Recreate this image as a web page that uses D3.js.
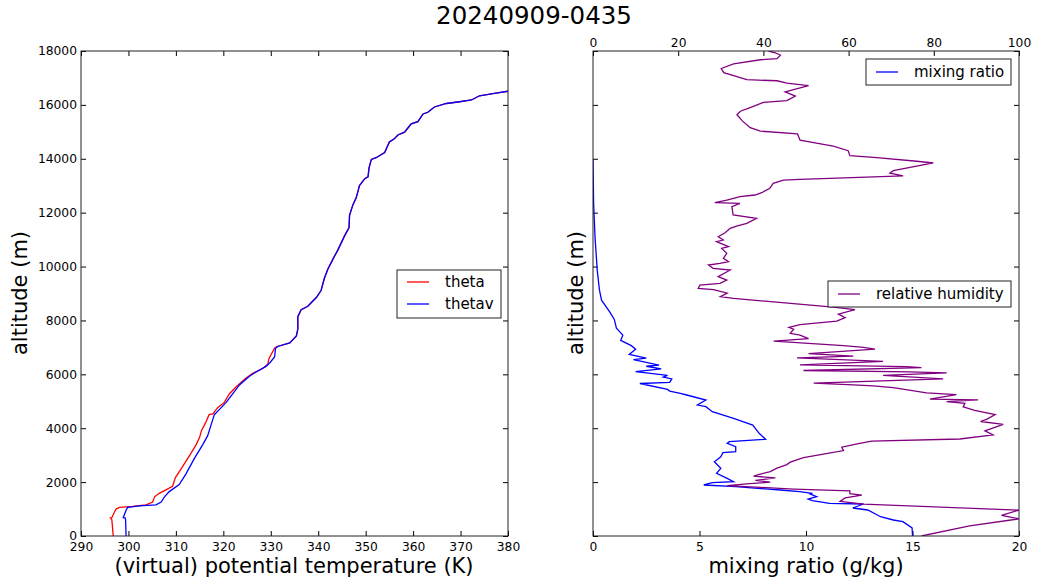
<!DOCTYPE html>
<html><head><meta charset="utf-8">
<script src="https://cdn.jsdelivr.net/npm/d3@7"></script>
<style>
html,body{margin:0;padding:0;background:#fff;}
svg{display:block;}
text{font-family:"DejaVu Sans",sans-serif;fill:#000;}
</style></head>
<body><svg id="c" width="1039" height="578"></svg>
<script>
const title = "20240909-0435";
// left panel: potential temperature profiles
const thetaVals = [296.8,296.5,296.2,296.5,297.0,297.4,298.1,300.9,303.7,305.1,305.5,306.5,307.9,309.3,309.9,311.1,313.2,314.3,315.0,315.4,316.2,317.0,317.8,318.8,320.2,321.3,322.7,324.8,326.2,328.3,329.4,329.6,330.8,331.3,334.0,335.4,335.7,335.7,336.4,337.8,339.6,340.6,341.3,342.0,343.1,344.1,345.5,346.5,346.6,347.3,348.0,348.7,349.8,350.5,350.7,351.2,352.2,354.0,355.0,356.1,356.8,358.2,358.9,359.6,361.0,362.1,363.1,364.5,367.0,369.8,372.3,374.0,376.8,380.0];
const thetaAlt  = [0,600,675,680,870,1000,1064,1103,1155,1259,1453,1583,1713,1843,2167,2492,3076,3400,3660,3919,4179,4503,4529,4763,4957,5282,5541,5866,6034,6216,6385,6580,6969,7034,7164,7423,7682,8137,8396,8525,8850,9110,9564,9888,10277,10602,11121,11446,11900,12289,12549,13003,13262,13327,13651,13975,14040,14235,14624,14754,14884,14988,15143,15299,15377,15662,15727,15922,16052,16117,16182,16338,16415,16506];
const thetavVals = [299.5,299.4,299.3,298.9,299.6,299.85,302.3,305.8,306.9,307.6,308.6,310.7,312.1,313.9,315.7,316.7,317.4,318.1,319.2,320.6,322.0,323.4,325.5,326.9,329.0,329.9,330.8,331.0,331.5,334.0,335.4,335.7,335.7,336.4,337.8,339.6,340.6,341.3,342.0,343.1,344.1,345.5,346.5,346.6,347.3,348.0,348.7,349.8,350.5,350.7,351.2,352.2,354.0,355.0,356.1,356.8,358.2,358.9,359.6,361.0,362.1,363.1,364.5,367.0,369.8,372.3,374.0,376.8,380.0];
const thetavAlt  = [0,600,675,680,1000,1064,1120,1155,1259,1453,1648,1908,2297,2881,3400,3724,4114,4503,4698,4957,5282,5606,5930,6086,6294,6450,6644,6969,7034,7164,7423,7682,8137,8396,8525,8850,9110,9564,9888,10277,10602,11121,11446,11900,12289,12549,13003,13262,13327,13651,13975,14040,14235,14624,14754,14884,14988,15143,15299,15377,15662,15727,15922,16052,16117,16182,16338,16415,16506];
// right panel: mixing ratio (g/kg) and relative humidity (%)
const mrVals = [15.0,15.0,14.98,14.55,14.1,13.5,12.9,12.2,12.7,11.1,10.3,10.1,10.5,10.2,10.3,9.7,8.8,6.7,5.2,5.6,6.6,6.3,5.8,6.0,5.7,6.0,6.1,6.7,6.7,6.3,6.4,8.1,7.8,7.5,6.6,5.6,5.3,4.9,5.3,4.4,4.1,3.6,3.5,2.2,3.6,3.7,3.3,3.5,2.0,3.2,2.5,3.1,1.9,2.5,1.7,2.0,1.8,1.3,1.4,1.1,1.0,0.8,0.4,0.3,0.2,0.1,0.03,0];
const mrAlt  = [0,40,300,531,594,716,965,1039,1188,1213,1311,1373,1459,1558,1583,1645,1707,1830,1893,1978,2015,2141,2327,2512,2757,2943,3091,3128,3314,3438,3500,3589,3811,4119,4367,4613,4799,4861,5047,5233,5295,5380,5441,5660,5700,5831,5900,5960,6100,6200,6300,6340,6545,6600,6740,6935,7065,7260,7455,7714,8039,8300,8750,9143,9857,11026,12325,14000];
const rhVals = [77.1,88.4,100,95.9,100,63.5,58.0,59.2,63.1,60.3,60.3,47.1,39.3,31.5,36.1,41.6,38.1,42.8,37.7,39.3,41.6,43.2,45.5,46.3,49.4,54.1,58.8,58.4,62.3,65.4,86.1,93.9,92.0,96.3,91.0,92.5,94.4,89.6,86.9,87.3,83.0,90.4,79.1,85.3,78.3,70.5,65.8,61.1,51.8,82.2,75.2,68.1,83.0,74.4,49.4,77.1,73.6,48.6,68.1,47.9,61.1,50.6,66.2,63.5,58.8,42.4,50.6,48.6,46.3,47.1,46.0,48.6,57.2,59.2,57.6,61.5,56.4,42.4,33.0,29.9,31.5,28.3,24.7,25.1,29.8,31.4,29.4,32.2,28.2,27.1,29.8,31.8,30.6,31.4,30.2,31.8,29.0,30.6,29.4,31.0,32.2,33.7,36.1,38.4,32.9,32.6,34.5,28.6,31.4,34.5,38.0,39.6,41.5,42.3,44.7,48.6,72.8,69.7,70.5,79.9,76.0,66.6,60.3,59.9,56.4,51.8,48.6,48.0,39.3,36.9,35.0,33.8,34.6,36.9,40.0,45.5,47.5,45.1,50.6,45.5,43.2,36.1,30.7,30.1,33.0,39.3,43.2,44.0,42.8,41.2];
const rhAlt  = [0,377,636,766,961,1182,1286,1416,1519,1571,1675,1740,1805,1870,1935,2000,2065,2156,2221,2299,2390,2519,2649,2740,2909,3039,3169,3299,3428,3519,3600,3753,3900,4143,4250,4338,4506,4662,4792,4922,4987,5052,5078,5247,5311,5506,5571,5610,5675,5831,5896,5960,6052,6091,6143,6247,6286,6351,6481,6610,6675,6766,6935,7000,7065,7234,7325,7455,7519,7675,7740,7844,7974,8104,8234,8403,8494,8688,8818,8883,9013,9143,9192,9314,9376,9500,9623,9871,9933,10057,10119,10180,10304,10490,10675,10737,10922,10984,11108,11256,11417,11504,11603,11789,11913,12222,12346,12370,12469,12593,12655,12741,12902,13088,13211,13236,13364,13467,13558,13844,13909,14039,14117,14299,14468,14597,14688,14922,15026,15156,15416,15636,15766,15896,16091,16156,16325,16480,16714,16805,16896,16935,17195,17351,17519,17675,17714,17844,17935,18000];
const altTicks = [0,2000,4000,6000,8000,10000,12000,14000,16000,18000];
const tempTicks = [290,300,310,320,330,340,350,360,370,380];
const mrTicks = [0,5,10,15,20];
const rhTicks = [0,20,40,60,80,100];

const svg = d3.select("#c");
const yTop = 51, yBot = 536;
const L = {x0:81, x1:508}, R = {x0:593, x1:1019};
const y = d3.scaleLinear().domain([0,18000]).range([yBot, yTop]);
const xT = d3.scaleLinear().domain([290,380]).range([L.x0, L.x1]);
const xM = d3.scaleLinear().domain([0,20]).range([R.x0, R.x1]);
const xH = d3.scaleLinear().domain([0,100]).range([R.x0, R.x1]);
const TK = 5, FS = 12.3;

svg.append("text").attr("x",534).attr("y",24).attr("text-anchor","middle").attr("font-size",24.5).text(title);

const defs = svg.append("defs");
defs.append("clipPath").attr("id","clipL").append("rect").attr("x",L.x0).attr("y",yTop).attr("width",L.x1-L.x0).attr("height",yBot-yTop);
defs.append("clipPath").attr("id","clipR").append("rect").attr("x",R.x0).attr("y",yTop).attr("width",R.x1-R.x0).attr("height",yBot-yTop);

function styleAxis(g){ g.select(".domain").remove(); g.selectAll("line").attr("stroke","#000"); g.selectAll("text").attr("font-size",FS).attr("font-family","DejaVu Sans"); }

function line(xs, vals, alts){
  return d3.line().x((d,i)=>xs(vals[i])).y((d,i)=>y(alts[i]))(vals);
}

// left panel
svg.append("g").attr("transform",`translate(0,${yBot})`).call(d3.axisBottom(xT).tickValues(tempTicks).tickSize(-TK).tickPadding(6).tickFormat(d3.format("d"))).call(styleAxis);
svg.append("g").attr("transform",`translate(0,${yTop})`).call(d3.axisTop(xT).tickValues(tempTicks).tickSize(-TK).tickFormat("")).call(styleAxis);
svg.append("g").attr("transform",`translate(${L.x0},0)`).call(d3.axisLeft(y).tickValues(altTicks).tickSize(-TK).tickPadding(4).tickFormat(d3.format("d"))).call(styleAxis);
svg.append("g").attr("transform",`translate(${L.x1},0)`).call(d3.axisRight(y).tickValues(altTicks).tickSize(-TK).tickFormat("")).call(styleAxis);
const gL = svg.append("g").attr("clip-path","url(#clipL)");
gL.append("path").attr("d",line(xT,thetaVals,thetaAlt)).attr("fill","none").attr("stroke","#ff0000").attr("stroke-width",1.3);
gL.append("path").attr("d",line(xT,thetavVals,thetavAlt)).attr("fill","none").attr("stroke","#0000ff").attr("stroke-width",1.3);
svg.append("rect").attr("x",L.x0).attr("y",yTop).attr("width",L.x1-L.x0).attr("height",yBot-yTop).attr("fill","none").attr("stroke","#222").attr("stroke-width",1);

// legend left
const lg = svg.append("g");
lg.append("rect").attr("x",397).attr("y",270).attr("width",104).attr("height",48).attr("fill","#fff").attr("stroke","#222").attr("stroke-width",1);
[["theta","#ff0000",282],["thetav","#0000ff",304]].forEach(([t,c,yy])=>{
  lg.append("line").attr("x1",407).attr("x2",429).attr("y1",yy).attr("y2",yy).attr("stroke",c).attr("stroke-width",1.3);
  lg.append("text").attr("x",445).attr("y",yy+5).attr("font-size",15).text(t);
});

// right panel
svg.append("g").attr("transform",`translate(0,${yBot})`).call(d3.axisBottom(xM).tickValues(mrTicks).tickSize(-TK).tickPadding(6).tickFormat(d3.format("d"))).call(styleAxis);
svg.append("g").attr("transform",`translate(0,${yTop})`).call(d3.axisTop(xH).tickValues(rhTicks).tickSize(-TK).tickPadding(4).tickFormat(d3.format("d"))).call(styleAxis);
svg.append("g").attr("transform",`translate(${R.x0},0)`).call(d3.axisLeft(y).tickValues(altTicks).tickSize(-TK).tickFormat("")).call(styleAxis);
svg.append("g").attr("transform",`translate(${R.x1},0)`).call(d3.axisRight(y).tickValues(altTicks).tickSize(-TK).tickFormat("")).call(styleAxis);
const gR = svg.append("g").attr("clip-path","url(#clipR)");
gR.append("path").attr("d",line(xM,mrVals,mrAlt)).attr("fill","none").attr("stroke","#0000ff").attr("stroke-width",1.3);
gR.append("path").attr("d",line(xH,rhVals,rhAlt)).attr("fill","none").attr("stroke","#800080").attr("stroke-width",1.3);
svg.append("rect").attr("x",R.x0).attr("y",yTop).attr("width",R.x1-R.x0).attr("height",yBot-yTop).attr("fill","none").attr("stroke","#222").attr("stroke-width",1);

// legends right
const lr = svg.append("g");
lr.append("rect").attr("x",866).attr("y",59).attr("width",145).attr("height",26).attr("fill","#fff").attr("stroke","#222");
lr.append("line").attr("x1",876).attr("x2",898).attr("y1",72).attr("y2",72).attr("stroke","#0000ff").attr("stroke-width",1.3);
lr.append("text").attr("x",914).attr("y",77).attr("font-size",15).text("mixing ratio");
lr.append("rect").attr("x",828).attr("y",281).attr("width",183).attr("height",26).attr("fill","#fff").attr("stroke","#222");
lr.append("line").attr("x1",838).attr("x2",860).attr("y1",294).attr("y2",294).attr("stroke","#800080").attr("stroke-width",1.3);
lr.append("text").attr("x",876).attr("y",299).attr("font-size",15).text("relative humidity");

// axis labels
svg.append("text").attr("x",294).attr("y",573).attr("text-anchor","middle").attr("font-size",21).text("(virtual) potential temperature (K)");
svg.append("text").attr("x",806).attr("y",573).attr("text-anchor","middle").attr("font-size",21).text("mixing ratio (g/kg)");
svg.append("text").attr("transform","translate(27,293) rotate(-90)").attr("text-anchor","middle").attr("font-size",21).text("altitude (m)");
svg.append("text").attr("transform","translate(583,293) rotate(-90)").attr("text-anchor","middle").attr("font-size",21).text("altitude (m)");
</script></body></html>
